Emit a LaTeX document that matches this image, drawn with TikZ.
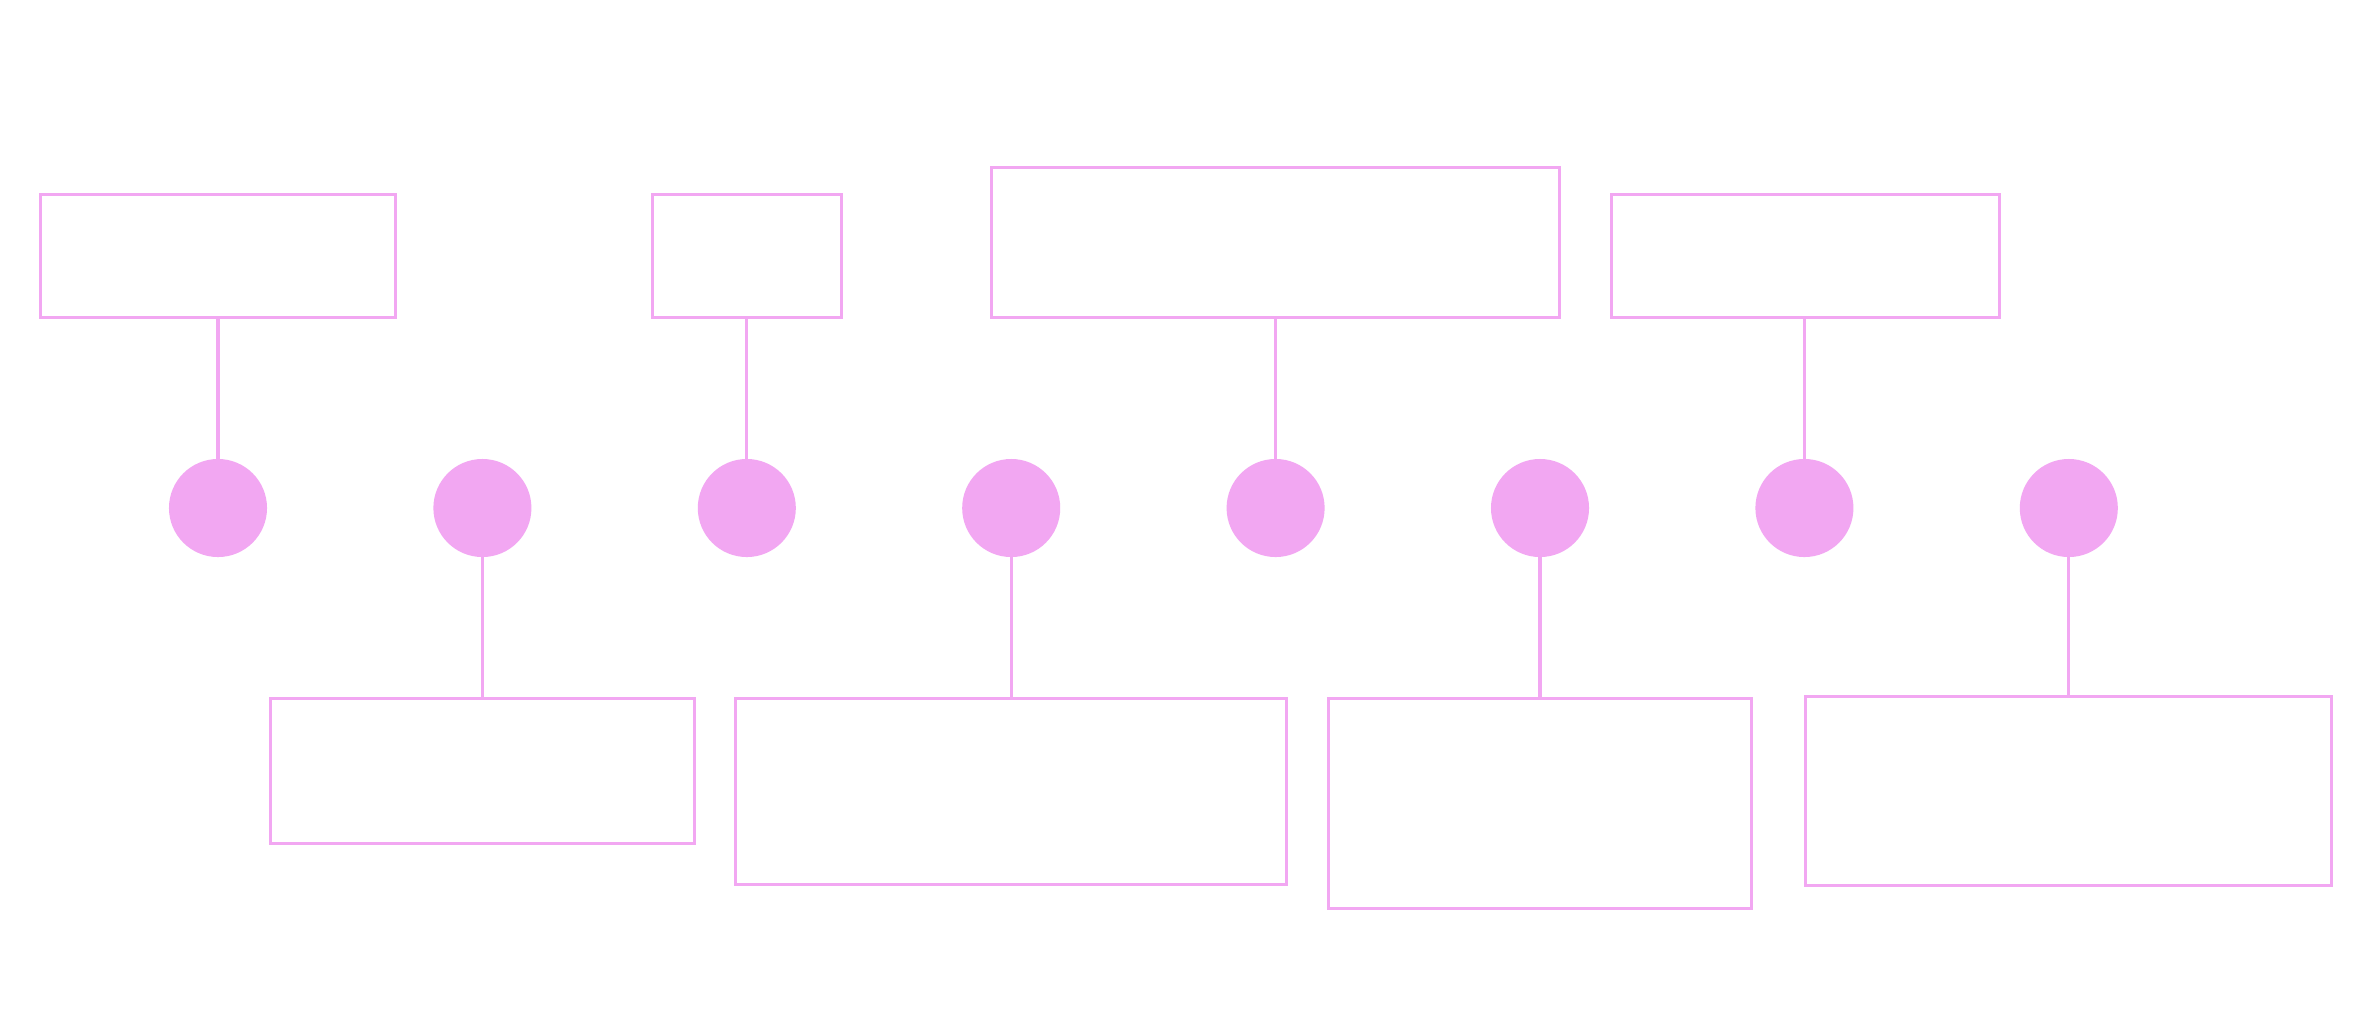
\documentclass[tikz,border=0pt]{standalone}
\begin{document}
\begin{tikzpicture}[x=0.01cm,y=-0.01cm,
  box/.style={draw=pinkc, line width=0.035cm, rectangle, inner sep=0pt, outer sep=0pt, fill=white},
  dot/.style={circle, fill=pinkc, draw=none, minimum size=0.98cm, inner sep=0pt, outer sep=0pt},
  link/.style={draw=pinkc, line width=0.033cm}]
\definecolor{pinkc}{RGB}{242,167,242}
\fill[white] (0,0) rectangle (2361,1011);
\useasboundingbox (0,0) rectangle (2361,1011);
% top boxes
\node[box, minimum width=3.55cm, minimum height=1.23cm] (t1) at (218,256) {};
\node[box, minimum width=1.89cm, minimum height=1.23cm] (t2) at (747,256) {};
\node[box, minimum width=5.68cm, minimum height=1.50cm] (t3) at (1275.5,242.5) {};
\node[box, minimum width=3.88cm, minimum height=1.23cm] (t4) at (1805.5,256) {};
% circles
\node[dot] (c1) at (218,508) {};
\node[dot] (c2) at (482.4,508) {};
\node[dot] (c3) at (746.8,508) {};
\node[dot] (c4) at (1011.2,508) {};
\node[dot] (c5) at (1275.6,508) {};
\node[dot] (c6) at (1540,508) {};
\node[dot] (c7) at (1804.4,508) {};
\node[dot] (c8) at (2068.8,508) {};
% bottom boxes
\node[box, minimum width=4.24cm, minimum height=1.45cm] (b1) at (482.5,771) {};
\node[box, minimum width=5.51cm, minimum height=1.86cm] (b2) at (1011,791.5) {};
\node[box, minimum width=4.23cm, minimum height=2.10cm] (b3) at (1540,803.5) {};
\node[box, minimum width=5.26cm, minimum height=1.89cm] (b4) at (2068.5,791) {};
% connectors
\draw[link] (t1.south -| c1) -- (c1.north);
\draw[link] (t2.south -| c3) -- (c3.north);
\draw[link] (t3.south -| c5) -- (c5.north);
\draw[link] (t4.south -| c7) -- (c7.north);
\draw[link] (c2.south) -- (c2.south |- b1.north);
\draw[link] (c4.south) -- (c4.south |- b2.north);
\draw[link] (c6.south) -- (c6.south |- b3.north);
\draw[link] (c8.south) -- (c8.south |- b4.north);
\end{tikzpicture}
\end{document}
